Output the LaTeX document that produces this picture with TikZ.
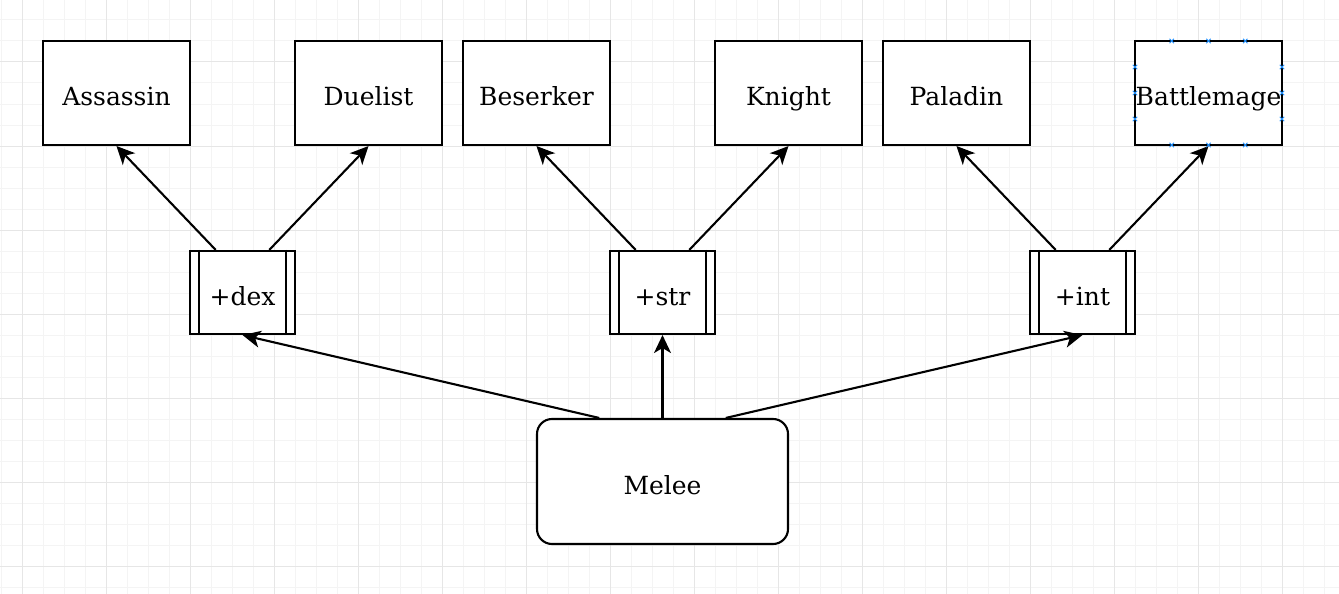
\documentclass[tikz,border=0pt]{standalone}
\usepackage{fontspec}
\setmainfont{DejaVu Serif}
\usetikzlibrary{arrows.meta,calc}
\definecolor{minorgrid}{HTML}{F4F4F4}
\definecolor{majorgrid}{HTML}{E6E6E6}
\definecolor{markblue}{HTML}{1E90FF}
\begin{document}
\begin{tikzpicture}[x=1pt,y=-1pt,
  every node/.style={font=\fontsize{25}{30}\selectfont,text height=30pt,text depth=5pt},
  classbox/.style={draw=black,line width=2.1pt,fill=white,minimum width=147pt,minimum height=104pt,inner sep=0pt},
  statbox/.style={draw=black,line width=2.1pt,fill=white,minimum width=105pt,minimum height=83pt,inner sep=0pt},
  rootbox/.style={draw=black,line width=2.1pt,fill=white,rounded corners=15pt,minimum width=251pt,minimum height=125pt,inner sep=0pt},
  link/.style={line width=2.1pt,-{Stealth[length=18pt,width=17pt,inset=5pt]}},
  marker/.style={draw=markblue,line width=1pt}
]
\useasboundingbox (0,0) rectangle (1339,594);
\fill[white] (0,0) rectangle (1339,594);
% grid
\foreach \x in {1,22,...,1339} {\draw[minorgrid,line width=1pt] (\x,0) -- (\x,594);}
\foreach \y in {-1,20,...,594} {\draw[minorgrid,line width=1pt] (0,\y) -- (1339,\y);}
\foreach \x in {22,106,...,1339} {\draw[majorgrid,line width=1pt] (\x,0) -- (\x,594);}
\foreach \y in {62,146,...,594} {\draw[majorgrid,line width=1pt] (0,\y) -- (1339,\y);}

% class nodes
\node[classbox] (assassin) at (116.5,93) {Assassin};
\node[classbox] (duelist) at (368.5,93) {Duelist};
\node[classbox] (beserker) at (536.5,93) {Beserker};
\node[classbox] (knight) at (788.5,93) {Knight};
\node[classbox] (paladin) at (956.5,93) {Paladin};
\node[classbox] (battlemage) at (1208.5,93) {Battlemage};

% stat nodes
\foreach \n/\t/\x in {dex/+dex/242.5, str/+str/662.5, int/+int/1082.5} {
  \node[statbox] (\n) at (\x,292.5) {\t};
  \draw[line width=2.1pt] ([xshift=10pt]\n.north west) -- ([xshift=10pt]\n.south west);
  \draw[line width=2.1pt] ([xshift=-10pt]\n.north east) -- ([xshift=-10pt]\n.south east);
}

% root
\node[rootbox] (melee) at (662.5,481.5) {Melee};

% connectors
\draw[link] ($(dex.north west)!0.25!(dex.north east)$) -- (assassin.south);
\draw[link] ($(dex.north west)!0.75!(dex.north east)$) -- (duelist.south);
\draw[link] ($(str.north west)!0.25!(str.north east)$) -- (beserker.south);
\draw[link] ($(str.north west)!0.75!(str.north east)$) -- (knight.south);
\draw[link] ($(int.north west)!0.25!(int.north east)$) -- (paladin.south);
\draw[link] ($(int.north west)!0.75!(int.north east)$) -- (battlemage.south);
\draw[link] ($(melee.north west)!0.25!(melee.north east)$) -- (dex.south);
\draw[link] (melee.north) -- (str.south);
\draw[link] ($(melee.north west)!0.75!(melee.north east)$) -- (int.south);

% selection markers on Battlemage
\foreach \mx/\my in {1171.75/41, 1208.5/41, 1245.25/41, 1171.75/145, 1208.5/145, 1245.25/145,
                     1135/67, 1135/93, 1135/119, 1282/67, 1282/93, 1282/119} {
  \draw[marker] (\mx-2.2,\my-2.2) -- (\mx+2.2,\my+2.2) (\mx-2.2,\my+2.2) -- (\mx+2.2,\my-2.2);
}
\end{tikzpicture}
\end{document}
